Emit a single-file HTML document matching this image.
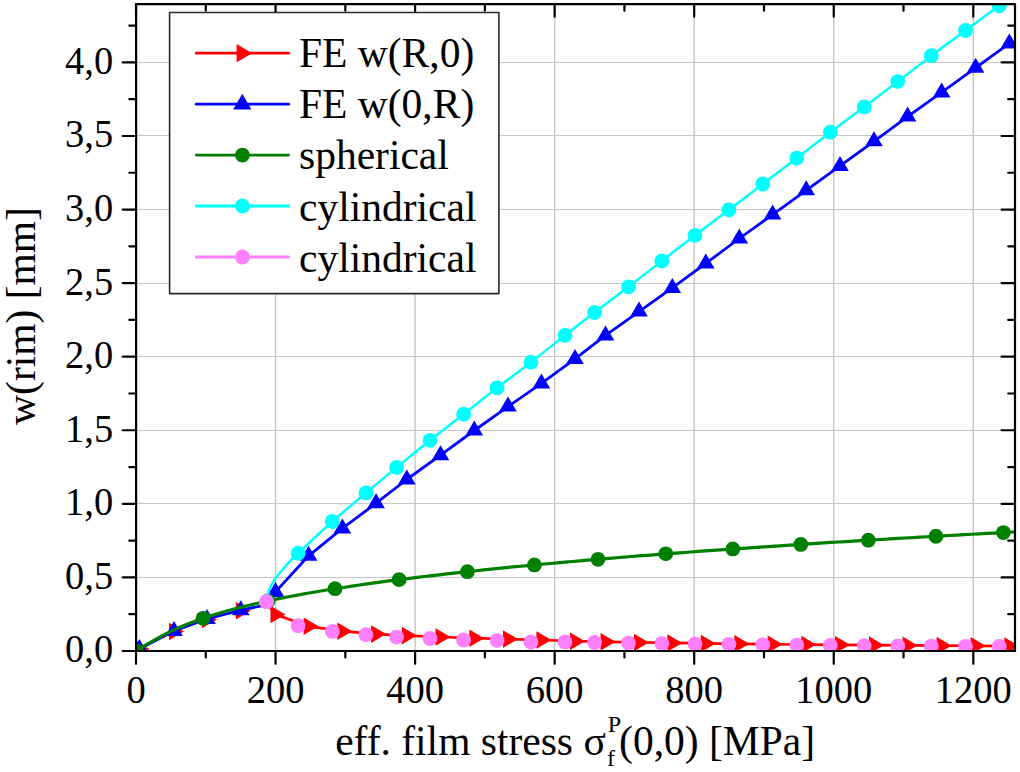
<!DOCTYPE html>
<html><head><meta charset="utf-8"><style>
html,body{margin:0;padding:0;background:#fff;}
body{width:1020px;height:772px;overflow:hidden;font-family:"Liberation Serif",serif;}
svg{display:block;}
</style></head><body>
<svg width="1020" height="772" viewBox="0 0 1020 772">
<defs><clipPath id="pa"><rect x="136.1" y="4.2" width="878.9" height="646.8"/></clipPath></defs>
<rect width="1020" height="772" fill="#fff"/>
<path d="M275.55,4.2 V651 M415.1,4.2 V651 M554.65,4.2 V651 M694.2,4.2 V651 M833.75,4.2 V651 M973.3,4.2 V651" stroke="#c2c2c2" stroke-width="1.3" fill="none"/>
<path d="M136.1,577.5 H1015 M136.1,503.5 H1015 M136.1,430.5 H1015 M136.1,356.5 H1015 M136.1,283.5 H1015 M136.1,209.5 H1015 M136.1,135.5 H1015 M136.1,62.5 H1015" stroke="#c6c6c6" stroke-width="1" fill="none"/>
<g clip-path="url(#pa)" stroke-linejoin="round" stroke-linecap="round" fill="none">
<polyline points="268,605 275.5,614.5 308.6,626.3 342.4,631.2 376.1,634.1 406.8,635.6 440.5,637 474.3,638.2 508,639.1 541.4,640 575,641.18 605.5,641.82 639,642.43 672.3,642.96 705.8,643.43 739.3,643.85 772.6,644.23 806.2,644.57 840,644.87 874,645.16 907.6,645.41 941.6,645.65 975.6,645.86 1009.3,646.06" stroke="#ff0000" stroke-width="2.7"/>
<path d="M149.4,649 L134.4,657.8 L134.4,640.2 Z M184,631.5 L169,640.3 L169,622.7 Z M217,619.5 L202,628.3 L202,610.7 Z M250.8,610.7 L235.8,619.5 L235.8,601.9 Z M285.5,614.5 L270.5,623.3 L270.5,605.7 Z M318.6,626.3 L303.6,635.1 L303.6,617.5 Z M352.4,631.2 L337.4,640 L337.4,622.4 Z M386.1,634.1 L371.1,642.9 L371.1,625.3 Z M416.8,635.6 L401.8,644.4 L401.8,626.8 Z M450.5,637 L435.5,645.8 L435.5,628.2 Z M484.3,638.2 L469.3,647 L469.3,629.4 Z M518,639.1 L503,647.9 L503,630.3 Z M551.4,640 L536.4,648.8 L536.4,631.2 Z M585,641.18 L570,649.98 L570,632.38 Z M615.5,641.82 L600.5,650.62 L600.5,633.02 Z M649,642.43 L634,651.23 L634,633.63 Z M682.3,642.96 L667.3,651.76 L667.3,634.16 Z M715.8,643.43 L700.8,652.23 L700.8,634.63 Z M749.3,643.85 L734.3,652.65 L734.3,635.05 Z M782.6,644.23 L767.6,653.03 L767.6,635.43 Z M816.2,644.57 L801.2,653.37 L801.2,635.77 Z M850,644.87 L835,653.67 L835,636.07 Z M884,645.16 L869,653.96 L869,636.36 Z M917.6,645.41 L902.6,654.21 L902.6,636.61 Z M951.6,645.65 L936.6,654.45 L936.6,636.85 Z M985.6,645.86 L970.6,654.66 L970.6,637.06 Z M1019.3,646.06 L1004.3,654.86 L1004.3,637.26 Z" fill="#ff0000" stroke="none"/>
<polyline points="139.4,649 174,631 207,619 240.8,610.2 268,604.5 275.5,591.9 308.6,555.8 342.4,528.4 376.1,503.2 406.8,479.5 440.5,455.2 474.3,430.5 508,406.6 541.4,383.4 575,358.9 605.5,335.4 639,311.6 672.3,287.9 705.8,263.4 739.3,238.5 772.6,214.6 806.2,190.3 840,165.9 874,141.3 907.6,116.6 941.6,92.4 975.6,67.8 1009.3,43.4" stroke="#0000ff" stroke-width="2.8"/>
<path d="M139.4,639 L148.2,654 L130.6,654 Z M174,621 L182.8,636 L165.2,636 Z M207,609 L215.8,624 L198.2,624 Z M240.8,600.2 L249.6,615.2 L232,615.2 Z M275.5,581.9 L284.3,596.9 L266.7,596.9 Z M308.6,545.8 L317.4,560.8 L299.8,560.8 Z M342.4,518.4 L351.2,533.4 L333.6,533.4 Z M376.1,493.2 L384.9,508.2 L367.3,508.2 Z M406.8,469.5 L415.6,484.5 L398,484.5 Z M440.5,445.2 L449.3,460.2 L431.7,460.2 Z M474.3,420.5 L483.1,435.5 L465.5,435.5 Z M508,396.6 L516.8,411.6 L499.2,411.6 Z M541.4,373.4 L550.2,388.4 L532.6,388.4 Z M575,348.9 L583.8,363.9 L566.2,363.9 Z M605.5,325.4 L614.3,340.4 L596.7,340.4 Z M639,301.6 L647.8,316.6 L630.2,316.6 Z M672.3,277.9 L681.1,292.9 L663.5,292.9 Z M705.8,253.4 L714.6,268.4 L697,268.4 Z M739.3,228.5 L748.1,243.5 L730.5,243.5 Z M772.6,204.6 L781.4,219.6 L763.8,219.6 Z M806.2,180.3 L815,195.3 L797.4,195.3 Z M840,155.9 L848.8,170.9 L831.2,170.9 Z M874,131.3 L882.8,146.3 L865.2,146.3 Z M907.6,106.6 L916.4,121.6 L898.8,121.6 Z M941.6,82.4 L950.4,97.4 L932.8,97.4 Z M975.6,57.8 L984.4,72.8 L966.8,72.8 Z M1009.3,33.4 L1018.1,48.4 L1000.5,48.4 Z" fill="#0000ff" stroke="none"/>
<polyline points="136,651 143.39,646.45 150.79,642.04 158.18,637.86 165.58,633.96 172.97,630.36 180.37,627.03 187.76,623.97 195.16,621.13 202.55,618.49 209.95,616.03 217.34,613.73 224.74,611.56 232.13,609.51 239.53,607.58 246.92,605.74 254.32,603.98 261.71,602.3 269.11,600.7 276.5,599.16 283.9,597.67 291.29,596.25 298.69,594.87 306.08,593.54 313.48,592.25 320.87,591 328.27,589.78 335.66,588.61 343.06,587.46 350.45,586.34 357.85,585.26 365.24,584.2 372.64,583.16 380.03,582.15 387.43,581.16 394.82,580.19 402.22,579.25 409.61,578.32 417.01,577.41 424.4,576.52 431.8,575.65 439.19,574.79 446.59,573.95 453.98,573.12 461.38,572.3 468.77,571.51 476.17,570.72 483.56,569.94 490.96,569.18 498.35,568.43 505.75,567.69 513.14,566.96 520.54,566.25 527.93,565.54 535.33,564.84 542.72,564.15 550.12,563.47 557.51,562.8 564.91,562.14 572.3,561.49 579.7,560.84 587.09,560.2 594.49,559.57 601.88,558.95 609.28,558.34 616.67,557.73 624.07,557.13 631.46,556.53 638.86,555.94 646.25,555.36 653.65,554.78 661.04,554.21 668.44,553.65 675.83,553.09 683.23,552.54 690.62,551.99 698.02,551.45 705.41,550.91 712.81,550.38 720.2,549.85 727.6,549.33 734.99,548.81 742.39,548.3 749.78,547.79 757.18,547.29 764.57,546.79 771.97,546.29 779.36,545.8 786.76,545.31 794.15,544.83 801.55,544.35 808.94,543.87 816.34,543.4 823.73,542.93 831.13,542.47 838.52,542.01 845.92,541.55 853.31,541.1 860.71,540.65 868.1,540.2 875.5,539.75 882.89,539.31 890.29,538.87 897.68,538.44 905.08,538.01 912.47,537.58 919.87,537.15 927.26,536.73 934.66,536.31 942.05,535.89 949.45,535.48 956.84,535.07 964.24,534.66 971.63,534.25 979.03,533.84 986.42,533.44 993.82,533.04 1001.21,532.65 1008.61,532.25 1016,531.86" stroke="#008000" stroke-width="3.2"/>
<circle cx="136.2" cy="650.88" r="7.4" fill="#008000" stroke="none"/><circle cx="203" cy="618.34" r="7.4" fill="#008000" stroke="none"/><circle cx="268" cy="600.93" r="7.4" fill="#008000" stroke="none"/><circle cx="335" cy="588.71" r="7.4" fill="#008000" stroke="none"/><circle cx="399.1" cy="579.64" r="7.4" fill="#008000" stroke="none"/><circle cx="467.4" cy="571.65" r="7.4" fill="#008000" stroke="none"/><circle cx="534.4" cy="564.93" r="7.4" fill="#008000" stroke="none"/><circle cx="598" cy="559.28" r="7.4" fill="#008000" stroke="none"/><circle cx="665.8" cy="553.85" r="7.4" fill="#008000" stroke="none"/><circle cx="732.8" cy="548.96" r="7.4" fill="#008000" stroke="none"/><circle cx="800.8" cy="544.4" r="7.4" fill="#008000" stroke="none"/><circle cx="868.3" cy="540.19" r="7.4" fill="#008000" stroke="none"/><circle cx="935.9" cy="536.24" r="7.4" fill="#008000" stroke="none"/><circle cx="1003.4" cy="532.53" r="7.4" fill="#008000" stroke="none"/>
<path d="M266.5,601.7 C266.61,601.13 267.37,597.07 267.6,596 C267.83,594.93 268.41,592.1 268.8,591 C269.19,589.9 270.9,586.16 271.5,585 C272.1,583.84 274.07,580.5 274.8,579.4 C275.53,578.3 277.97,575.04 278.8,574 C279.63,572.96 281.84,570.43 283.1,569 C284.36,567.57 289.9,561.28 291.4,559.7 C292.9,558.12 294.01,557.02 298.1,553.2 C302.19,549.38 325.52,527.53 332.3,521.5 C339.08,515.47 359.47,498.31 365.9,492.9 C372.33,487.49 390.19,472.66 396.6,467.4 C403.01,462.14 423.3,445.62 430,440.3 C436.7,434.98 456.89,419.45 463.6,414.2 C470.31,408.95 490.36,393 497.1,387.8 C503.84,382.6 524.21,367.45 531,362.2 C537.79,356.95 558.64,340.28 565,335.3 C571.36,330.32 588.25,317.25 594.6,312.4 C600.95,307.55 621.78,291.95 628.5,286.8 C635.22,281.65 655.15,266.05 661.8,260.9 C668.45,255.75 688.29,240.41 695,235.3 C701.71,230.19 722.12,214.93 728.9,209.8 C735.68,204.67 756.01,189.17 762.8,184 C769.59,178.83 790.05,163.28 796.8,158.1 C803.55,152.92 823.56,137.32 830.3,132.2 C837.04,127.08 857.45,111.96 864.2,106.9 C870.95,101.84 891.09,86.72 897.8,81.6 C904.51,76.48 924.53,60.82 931.3,55.7 C938.07,50.58 958.71,35.39 965.5,30.4 C972.29,25.41 995.83,8.26 999.2,5.8" stroke="#00ffff" stroke-width="2.5"/>
<circle cx="266.5" cy="601.7" r="7.4" fill="#00ffff" stroke="none"/><circle cx="298.1" cy="553.2" r="7.4" fill="#00ffff" stroke="none"/><circle cx="332.3" cy="521.5" r="7.4" fill="#00ffff" stroke="none"/><circle cx="365.9" cy="492.9" r="7.4" fill="#00ffff" stroke="none"/><circle cx="396.6" cy="467.4" r="7.4" fill="#00ffff" stroke="none"/><circle cx="430" cy="440.3" r="7.4" fill="#00ffff" stroke="none"/><circle cx="463.6" cy="414.2" r="7.4" fill="#00ffff" stroke="none"/><circle cx="497.1" cy="387.8" r="7.4" fill="#00ffff" stroke="none"/><circle cx="531" cy="362.2" r="7.4" fill="#00ffff" stroke="none"/><circle cx="565" cy="335.3" r="7.4" fill="#00ffff" stroke="none"/><circle cx="594.6" cy="312.4" r="7.4" fill="#00ffff" stroke="none"/><circle cx="628.5" cy="286.8" r="7.4" fill="#00ffff" stroke="none"/><circle cx="661.8" cy="260.9" r="7.4" fill="#00ffff" stroke="none"/><circle cx="695" cy="235.3" r="7.4" fill="#00ffff" stroke="none"/><circle cx="728.9" cy="209.8" r="7.4" fill="#00ffff" stroke="none"/><circle cx="762.8" cy="184" r="7.4" fill="#00ffff" stroke="none"/><circle cx="796.8" cy="158.1" r="7.4" fill="#00ffff" stroke="none"/><circle cx="830.3" cy="132.2" r="7.4" fill="#00ffff" stroke="none"/><circle cx="864.2" cy="106.9" r="7.4" fill="#00ffff" stroke="none"/><circle cx="897.8" cy="81.6" r="7.4" fill="#00ffff" stroke="none"/><circle cx="931.3" cy="55.7" r="7.4" fill="#00ffff" stroke="none"/><circle cx="965.5" cy="30.4" r="7.4" fill="#00ffff" stroke="none"/><circle cx="999.2" cy="5.8" r="7.4" fill="#00ffff" stroke="none"/>
<circle cx="266.5" cy="601.7" r="7.4" fill="#ff80ff" stroke="none"/><circle cx="298.1" cy="625.7" r="7.4" fill="#ff80ff" stroke="none"/><circle cx="332.3" cy="631.4" r="7.4" fill="#ff80ff" stroke="none"/><circle cx="365.9" cy="634.7" r="7.4" fill="#ff80ff" stroke="none"/><circle cx="396.6" cy="637.1" r="7.4" fill="#ff80ff" stroke="none"/><circle cx="430" cy="638.5" r="7.4" fill="#ff80ff" stroke="none"/><circle cx="463.6" cy="640" r="7.4" fill="#ff80ff" stroke="none"/><circle cx="497.1" cy="640.6" r="7.4" fill="#ff80ff" stroke="none"/><circle cx="531" cy="642" r="7.4" fill="#ff80ff" stroke="none"/><circle cx="565" cy="641.91" r="7.4" fill="#ff80ff" stroke="none"/><circle cx="594.6" cy="642.49" r="7.4" fill="#ff80ff" stroke="none"/><circle cx="628.5" cy="643.08" r="7.4" fill="#ff80ff" stroke="none"/><circle cx="661.8" cy="643.58" r="7.4" fill="#ff80ff" stroke="none"/><circle cx="695" cy="644.02" r="7.4" fill="#ff80ff" stroke="none"/><circle cx="728.9" cy="644.42" r="7.4" fill="#ff80ff" stroke="none"/><circle cx="762.8" cy="644.78" r="7.4" fill="#ff80ff" stroke="none"/><circle cx="796.8" cy="645.1" r="7.4" fill="#ff80ff" stroke="none"/><circle cx="830.3" cy="645.38" r="7.4" fill="#ff80ff" stroke="none"/><circle cx="864.2" cy="645.64" r="7.4" fill="#ff80ff" stroke="none"/><circle cx="897.8" cy="645.88" r="7.4" fill="#ff80ff" stroke="none"/><circle cx="931.3" cy="646.09" r="7.4" fill="#ff80ff" stroke="none"/><circle cx="965.5" cy="646.3" r="7.4" fill="#ff80ff" stroke="none"/><circle cx="999.2" cy="646.48" r="7.4" fill="#ff80ff" stroke="none"/>
</g>
<rect x="136.1" y="4.2" width="878.9" height="646.8" fill="none" stroke="#000" stroke-width="2.2" stroke-linejoin="round"/>
<path d="M136,651 V663.8 M136,4.2 V16.7 M205.77,651 V657.5 M205.77,4.2 V10.7 M275.55,651 V663.8 M275.55,4.2 V16.7 M345.32,651 V657.5 M345.32,4.2 V10.7 M415.1,651 V663.8 M415.1,4.2 V16.7 M484.88,651 V657.5 M484.88,4.2 V10.7 M554.65,651 V663.8 M554.65,4.2 V16.7 M624.42,651 V657.5 M624.42,4.2 V10.7 M694.2,651 V663.8 M694.2,4.2 V16.7 M763.98,651 V657.5 M763.98,4.2 V10.7 M833.75,651 V663.8 M833.75,4.2 V16.7 M903.52,651 V657.5 M903.52,4.2 V10.7 M973.3,651 V663.8 M973.3,4.2 V16.7 M136.1,651 H122.7 M1015,651 H1001.6 M136.1,614.21 H129.3 M1015,614.21 H1008.2 M136.1,577.42 H122.7 M1015,577.42 H1001.6 M136.1,540.64 H129.3 M1015,540.64 H1008.2 M136.1,503.85 H122.7 M1015,503.85 H1001.6 M136.1,467.06 H129.3 M1015,467.06 H1008.2 M136.1,430.27 H122.7 M1015,430.27 H1001.6 M136.1,393.49 H129.3 M1015,393.49 H1008.2 M136.1,356.7 H122.7 M1015,356.7 H1001.6 M136.1,319.91 H129.3 M1015,319.91 H1008.2 M136.1,283.12 H122.7 M1015,283.12 H1001.6 M136.1,246.34 H129.3 M1015,246.34 H1008.2 M136.1,209.55 H122.7 M1015,209.55 H1001.6 M136.1,172.76 H129.3 M1015,172.76 H1008.2 M136.1,135.98 H122.7 M1015,135.98 H1001.6 M136.1,99.19 H129.3 M1015,99.19 H1008.2 M136.1,62.4 H122.7 M1015,62.4 H1001.6 M136.1,25.61 H129.3 M1015,25.61 H1008.2" stroke="#000" stroke-width="2.2" stroke-linecap="round" fill="none"/>
<g font-family="Liberation Serif" font-size="38.5" fill="#000"><text transform="translate(136,703) scale(1,1.045)" text-anchor="middle">0</text><text transform="translate(275.55,703) scale(1,1.045)" text-anchor="middle">200</text><text transform="translate(415.1,703) scale(1,1.045)" text-anchor="middle">400</text><text transform="translate(554.65,703) scale(1,1.045)" text-anchor="middle">600</text><text transform="translate(694.2,703) scale(1,1.045)" text-anchor="middle">800</text><text transform="translate(833.75,703) scale(1,1.045)" text-anchor="middle">1000</text><text transform="translate(973.3,703) scale(1,1.045)" text-anchor="middle">1200</text><text transform="translate(113.2,662.4) scale(1,1.045)" text-anchor="end">0,0</text><text transform="translate(113.2,588.82) scale(1,1.045)" text-anchor="end">0,5</text><text transform="translate(113.2,515.25) scale(1,1.045)" text-anchor="end">1,0</text><text transform="translate(113.2,441.67) scale(1,1.045)" text-anchor="end">1,5</text><text transform="translate(113.2,368.1) scale(1,1.045)" text-anchor="end">2,0</text><text transform="translate(113.2,294.52) scale(1,1.045)" text-anchor="end">2,5</text><text transform="translate(113.2,220.95) scale(1,1.045)" text-anchor="end">3,0</text><text transform="translate(113.2,147.38) scale(1,1.045)" text-anchor="end">3,5</text><text transform="translate(113.2,73.8) scale(1,1.045)" text-anchor="end">4,0</text></g>
<text x="335.2" y="754.5" font-family="Liberation Serif" font-size="41.5" fill="#000">eff. film stress σ<tspan font-size="24" dy="-22.6" dx="2">P</tspan><tspan font-size="24" dx="-14" dy="34.2">f</tspan><tspan dy="-11.6" dx="4">(0,0) [MPa]</tspan></text>
<text transform="translate(35,316) rotate(-90)" text-anchor="middle" font-family="Liberation Serif" font-size="41.5" fill="#000">w(rim) [mm]</text>
<rect x="169.6" y="12.5" width="329.3" height="281.1" fill="#fff" stroke="#2a2a2a" stroke-width="1.6" stroke-linejoin="round"/>
<line x1="196.3" y1="53.2" x2="288.6" y2="53.2" stroke="#ff0000" stroke-width="2.8" stroke-linecap="round"/>
<path d="M252.2,53.2 L236.6,62.3 L236.6,44.1 Z" fill="#ff0000"/>
<text x="299" y="67" font-family="Liberation Serif" font-size="41.5" fill="#000">FE w(R,0)</text>
<line x1="196.3" y1="104.2" x2="288.6" y2="104.2" stroke="#0000ff" stroke-width="2.8" stroke-linecap="round"/>
<path d="M242.3,93.8 L251.4,109.4 L233.2,109.4 Z" fill="#0000ff"/>
<text x="299" y="117.8" font-family="Liberation Serif" font-size="41.5" fill="#000">FE w(0,R)</text>
<line x1="196.3" y1="155.1" x2="288.6" y2="155.1" stroke="#008000" stroke-width="2.8" stroke-linecap="round"/>
<circle cx="242.4" cy="155.1" r="7.4" fill="#008000"/>
<text x="299" y="169.2" font-family="Liberation Serif" font-size="41.5" fill="#000">spherical</text>
<line x1="196.3" y1="206" x2="288.6" y2="206" stroke="#00ffff" stroke-width="2.8" stroke-linecap="round"/>
<circle cx="242.4" cy="206" r="7.4" fill="#00ffff"/>
<text x="299" y="220.7" font-family="Liberation Serif" font-size="41.5" fill="#000">cylindrical</text>
<line x1="196.3" y1="257" x2="288.6" y2="257" stroke="#ff80ff" stroke-width="2.8" stroke-linecap="round"/>
<circle cx="242.4" cy="257" r="7.4" fill="#ff80ff"/>
<text x="299" y="271.6" font-family="Liberation Serif" font-size="41.5" fill="#000">cylindrical</text>
</svg>
</body></html>
